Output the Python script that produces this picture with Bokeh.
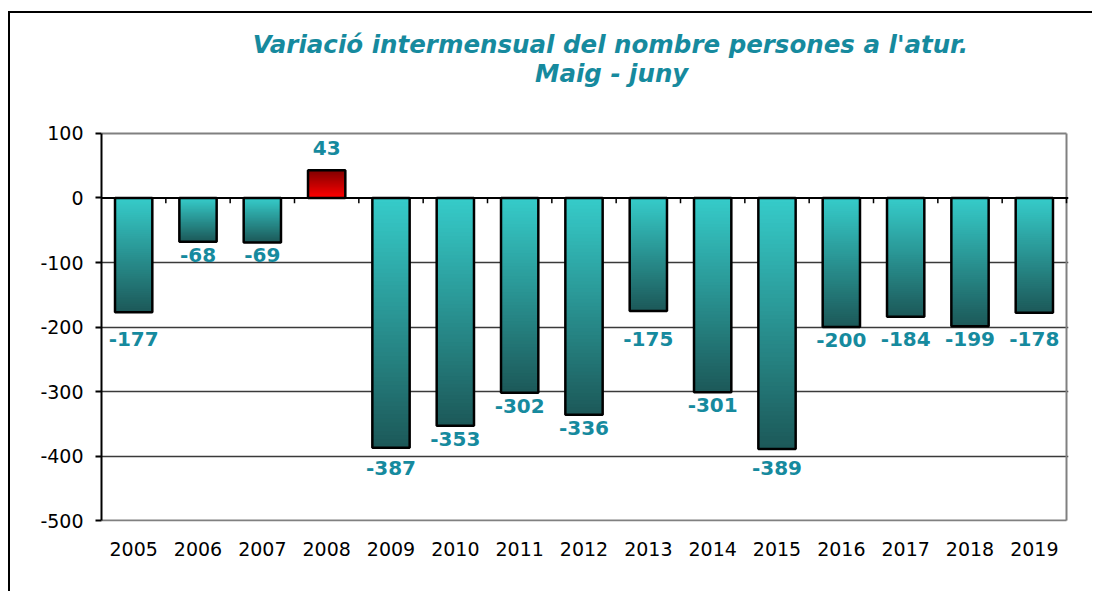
import numpy as np
from bokeh.plotting import figure
from bokeh.models import FixedTicker, ColumnDataSource, Range1d
from bokeh.embed import file_html
from bokeh.resources import INLINE
from bokeh.core.properties import value

# ---------------- data ----------------
years = ["2005", "2006", "2007", "2008", "2009", "2010", "2011", "2012",
         "2013", "2014", "2015", "2016", "2017", "2018", "2019"]
values = [-177, -68, -69, 43, -387, -353, -302, -336, -175, -301, -389,
          -200, -184, -199, -178]
y_ticks = [100, 0, -100, -200, -300, -400, -500]
grid_ticks = [-100, -200, -300, -400]
title_line1 = "Variació intermensual del nombre persones a l'atur."
title_line2 = "Maig - juny"

# ---------------- styles ----------------
TEAL = "#168A9E"
NEG_TOP, NEG_BOT = (54, 204, 202), (28, 88, 88)
POS_TOP, POS_BOT = (128, 0, 0), (255, 0, 0)
FONT = "DejaVu Sans"
N_STRIPS = 60
HALF_W = 0.29
Y_MIN, Y_MAX = y_ticks[-1], y_ticks[0]
N = len(years)

# frame reaches up to the top of the canvas so the title can be drawn as
# text in data space; the visible chart area is [Y_MIN, Y_MAX]
p = figure(width=1084, height=580, x_range=Range1d(0, N + 0.031),
           y_range=Range1d(Y_MIN - 1.5, Y_MAX + 186), output_backend="svg",
           toolbar_location=None, min_border_left=91, min_border_right=26,
           min_border_top=0, min_border_bottom=72,
           styles={"border-left": "2px solid black",
                   "border-top": "2px solid black",
                   "margin-left": "8px",
                   "margin-top": "11px"})
p.background_fill_color = "white"
p.border_fill_color = "white"
p.outline_line_color = None


def mix(c1, c2, t):
    r, g, b = (int(round(a + (b_ - a) * t)) for a, b_ in zip(c1, c2))
    return "#%02x%02x%02x" % (r, g, b)


# grid
p.xgrid.visible = False
p.ygrid.ticker = FixedTicker(ticks=grid_ticks)
p.ygrid.grid_line_color = "#3a3a3a"
p.ygrid.grid_line_width = 1.3

# gray chart-area border (top, right, bottom)
p.segment(x0=[0, N, 0], x1=[N, N, N], y0=[Y_MAX, Y_MIN, Y_MIN],
          y1=[Y_MAX, Y_MAX, Y_MIN], line_color="#808080", line_width=2)

# y axis
p.yaxis.ticker = FixedTicker(ticks=y_ticks)
p.yaxis.bounds = (Y_MIN, Y_MAX)
p.yaxis.major_label_overrides = {t: str(t) for t in y_ticks}
p.yaxis.axis_line_color = "black"
p.yaxis.axis_line_width = 2
p.yaxis.major_tick_line_color = "black"
p.yaxis.major_tick_line_width = 2
p.yaxis.major_tick_out = 6
p.yaxis.major_tick_in = 0
p.yaxis.minor_tick_line_color = None
p.yaxis.major_label_text_font = FONT
p.yaxis.major_label_text_font_size = "19px"
p.yaxis.major_label_text_color = "black"
p.yaxis.major_label_standoff = 12

# x axis
centers = [i + 0.5 for i in range(N)]
p.xaxis.ticker = FixedTicker(ticks=centers)
p.xaxis.major_label_overrides = {c: y for c, y in zip(centers, years)}
p.xaxis.axis_line_color = None
p.xaxis.major_tick_line_color = None
p.xaxis.minor_tick_line_color = None
p.xaxis.major_label_text_font = FONT
p.xaxis.major_label_text_font_size = "19px"
p.xaxis.major_label_text_color = "black"
p.xaxis.major_label_standoff = 14

# gradient bars: nested strips drawn longest first so no gaps appear
L, R, T, B, C = [], [], [], [], []
for c, v in zip(centers, values):
    ks = range(N_STRIPS - 1, -1, -1) if v < 0 else range(N_STRIPS)
    for k in ks:
        t = (k + 0.5) / N_STRIPS
        if v < 0:
            end = v * (k + 1) / N_STRIPS
            col = mix(NEG_TOP, NEG_BOT, t)
        else:
            end = v * (1 - k / N_STRIPS)
            col = mix(POS_TOP, POS_BOT, t)
        L.append(c - HALF_W); R.append(c + HALF_W)
        T.append(max(end, 0)); B.append(min(end, 0)); C.append(col)
p.quad(left=L, right=R, top=T, bottom=B, fill_color=C, line_color=None)

# bar outlines
p.quad(left=[c - HALF_W for c in centers], right=[c + HALF_W for c in centers],
       top=[max(v, 0) for v in values], bottom=[min(v, 0) for v in values],
       fill_color=None, line_color="black", line_width=2.5)

# zero line + category ticks
p.segment(x0=[0], x1=[N + 0.031], y0=[0], y1=[0], line_color="black",
          line_width=2)
bounds = list(range(1, N + 1))
p.segment(x0=bounds, x1=bounds, y0=[0] * len(bounds), y1=[-8] * len(bounds),
          line_color="black", line_width=1.5)

# value labels (placed below bar end, pushed past a gridline when overlapping)
lab_y = []
for v in values:
    if v >= 0:
        lab_y.append(v + 34)
        continue
    yc = v - 20
    hit = [g for g in range(-100, -501, -100) if yc - 10.5 <= g <= yc + 10.5]
    if hit:
        yc = hit[0] - 18.6
    lab_y.append(yc)

src = ColumnDataSource(dict(x=centers, y=lab_y, t=[str(v) for v in values]))
p.text(x="x", y="y", text="t", source=src, text_font=value(FONT),
       text_font_style="bold", text_font_size="20px", text_color=TEAL,
       text_align="center", text_baseline="middle")

# title (two centred lines)
p.text(x=[7.91, 7.93], y=[238, 193], text=[title_line1, title_line2],
       text_font=value(FONT), text_font_style="bold italic",
       text_font_size="24.5px", text_color=TEAL, text_align="center",
       text_baseline="alphabetic")

open("out.html", "w").write(file_html(p, INLINE))
